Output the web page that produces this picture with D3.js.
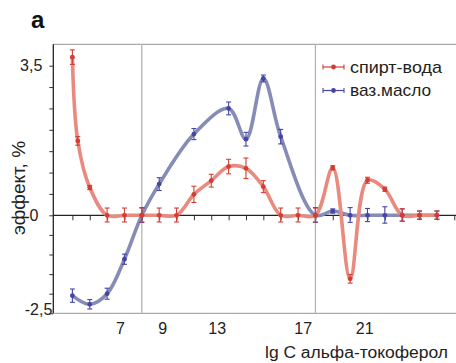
<!DOCTYPE html>
<html>
<head>
<meta charset="utf-8">
<script src="https://cdn.jsdelivr.net/npm/d3@7"></script>
<style>
  body { margin: 0; background: #fff; }
  text { font-family: "Liberation Sans", Arial, Helvetica, sans-serif; }
</style>
</head>
<body>
<div id="viz"></div>
<script>
const width = 456;
const height = 363;
const plot = {left: 53.3, right: 456, top: 44.3, bottom: 313.3};

// x is the step number along the axis (0 = first concentration)
const redX   = [0, 0.31, 1, 2, 3, 4, 5, 6, 7, 8, 9, 10, 11, 12, 13, 14, 15, 16, 17, 18, 19, 20, 21];
const redY   = [3.70, 1.74, 0.65, 0, 0, 0, 0, 0, 0.49, 0.81, 1.14, 1.10, 0.67, 0, 0, 0, 1.11, -1.62, 0.82, 0.61, 0, 0, 0];
const redErr = [0.17, 0.10, 0.05, 0.17, 0.17, 0.17, 0.17, 0.17, 0.19, 0.15, 0.17, 0.24, 0.14, 0.17, 0.17, 0.17, 0.05, 0.11, 0.07, 0.05, 0.15, 0.10, 0.10];

const blueX   = [0, 1, 2, 3, 4, 5, 7, 9, 10, 11, 12, 14, 15, 16, 17, 18, 19, 20, 21];
const blueY   = [-2.05, -2.27, -2.0, -1.12, 0, 0.73, 1.90, 2.50, 1.78, 3.20, 1.84, 0, 0.10, 0, 0, 0, 0, 0, 0];
const blueErr = [0.17, 0.12, 0.14, 0.13, 0.18, 0.15, 0.13, 0.15, 0.16, 0.08, 0.17, 0.18, 0.05, 0.18, 0.16, 0.20, 0.15, 0.10, 0.10];

const seriesNames = ['спирт-вода', 'ваз.масло'];

// x tick labels and where they sit (in steps)
const xLabels   = ['7', '9', '13', '17', '21'];
const xLabelPos = [2.74, 5.18, 8.31, 13.27, 16.81];
const vLines = [4, 14];

const yLabeled = [3.5, 0, -2.5];

const colors = {
  redLine: '#ea8a7e', redMark: '#d33d33',
  blueLine: '#868cb6', blueMark: '#4545a8'
};

const svg = d3.select('#viz').append('svg')
  .attr('width', width)
  .attr('height', height);

const x = d3.scaleLinear().domain([-1.1, 22.1]).range([plot.left, plot.right]);
// the y axis is not uniform in the picture, so use a piecewise scale
const y = d3.scaleLinear().domain([-2.5, 0, 4]).range([plot.bottom, 215.3, plot.top]);

// frame lines (top, bottom)
svg.append('line')
  .attr('x1', plot.left).attr('x2', plot.right)
  .attr('y1', plot.top).attr('y2', plot.top)
  .attr('stroke', '#aaa').attr('stroke-width', 1.2);
svg.append('line')
  .attr('x1', plot.left).attr('x2', plot.right)
  .attr('y1', plot.bottom).attr('y2', plot.bottom)
  .attr('stroke', '#aaa').attr('stroke-width', 1.2);

// vertical markers
svg.selectAll('.vline')
  .data(vLines)
  .join('line')
  .attr('class', 'vline')
  .attr('x1', d => x(d)).attr('x2', d => x(d))
  .attr('y1', plot.top).attr('y2', plot.bottom)
  .attr('stroke', '#b0b0b0').attr('stroke-width', 1.2);

// y axis
const comma = d3.formatLocale({decimal: ',', thousands: ' ', grouping: [3], currency: ['', ''], minus: '-'}).format('~g');
const yNudge = {'3.5': [0, 0], '0': [-4, 0], '-2.5': [10, -4]};
const yAxis = svg.append('g')
  .attr('transform', `translate(${plot.left},0)`)
  .call(d3.axisLeft(y)
    .tickValues(d3.range(-2.5, 3.51, 0.5))
    .tickSize(4)
    .tickPadding(7)
    .tickFormat(d => yLabeled.some(v => Math.abs(v - d) < 1e-6) ? comma(d) : ''));
yAxis.select('.domain').attr('stroke', '#222').attr('stroke-width', 1.3)
  .attr('d', `M0,${plot.top}V${plot.bottom}`);
yAxis.selectAll('.tick line').attr('stroke', '#333');
yAxis.selectAll('.tick text')
  .attr('font-size', 16).attr('fill', '#222')
  .attr('transform', d => {
    const k = Object.keys(yNudge).find(s => Math.abs(+s - d) < 1e-6);
    return k ? `translate(${yNudge[k][0]},${yNudge[k][1]})` : null;
  });

// x axis at zero
const xAxis = svg.append('g')
  .attr('transform', `translate(0,${y(0)})`)
  .call(d3.axisBottom(x).tickValues(d3.range(0, 23)).tickSize(5).tickFormat(''));
xAxis.select('.domain').attr('stroke', '#222').attr('stroke-width', 1.3)
  .attr('d', `M${plot.left},0H${plot.right}`);
xAxis.selectAll('.tick line').attr('stroke', '#333');

// x labels under the plot
const xLab = svg.append('g')
  .attr('transform', `translate(0,${plot.bottom})`)
  .call(d3.axisBottom(x).tickValues(xLabelPos).tickSize(0).tickPadding(9)
    .tickFormat((d, i) => xLabels[i]));
xLab.select('.domain').remove();
xLab.selectAll('text').attr('font-size', 16).attr('fill', '#222');

// titles
svg.append('text')
  .attr('x', 448).attr('y', 358)
  .attr('text-anchor', 'end')
  .attr('font-size', 16).attr('fill', '#222')
  .attr('textLength', 183).attr('lengthAdjust', 'spacingAndGlyphs')
  .text('lg C альфа-токоферол');

svg.append('text')
  .attr('transform', 'translate(25,188) rotate(-90)')
  .attr('text-anchor', 'middle')
  .attr('font-size', 19).attr('fill', '#222')
  .text('эффект, %');

svg.append('text')
  .attr('x', 31).attr('y', 27.5)
  .attr('font-size', 24).attr('font-weight', 'bold').attr('fill', '#111')
  .text('a');

// series
const series = [
  {name: seriesNames[0], xs: redX, ys: redY, err: redErr, line: colors.redLine, mark: colors.redMark},
  {name: seriesNames[1], xs: blueX, ys: blueY, err: blueErr, line: colors.blueLine, mark: colors.blueMark}
];

const lineGen = d3.line()
  .x(d => x(d[0]))
  .y(d => y(d[1]))
  .curve(d3.curveCatmullRom);

// blue first, red on top
[series[1], series[0]].forEach(s => {
  const pts = s.xs.map((v, i) => [v, s.ys[i], s.err[i]]);
  svg.append('path')
    .attr('d', lineGen(pts))
    .attr('fill', 'none')
    .attr('stroke', s.line)
    .attr('stroke-width', 3.6)
    .attr('stroke-linecap', 'round');
});

[series[1], series[0]].forEach(s => {
  const pts = s.xs.map((v, i) => [v, s.ys[i], s.err[i]]);
  const g = svg.append('g');
  const bars = g.selectAll('.err').data(pts).join('g').attr('class', 'err')
    .attr('stroke', s.mark).attr('stroke-width', 1.1);
  bars.append('line')
    .attr('x1', d => x(d[0])).attr('x2', d => x(d[0]))
    .attr('y1', d => y(d[1] - d[2])).attr('y2', d => y(d[1] + d[2]));
  bars.append('line')
    .attr('x1', d => x(d[0]) - 2.5).attr('x2', d => x(d[0]) + 2.5)
    .attr('y1', d => y(d[1] - d[2])).attr('y2', d => y(d[1] - d[2]));
  bars.append('line')
    .attr('x1', d => x(d[0]) - 2.5).attr('x2', d => x(d[0]) + 2.5)
    .attr('y1', d => y(d[1] + d[2])).attr('y2', d => y(d[1] + d[2]));
  g.selectAll('circle').data(pts).join('circle')
    .attr('cx', d => x(d[0])).attr('cy', d => y(d[1]))
    .attr('r', 2.4).attr('fill', s.mark);
});

// legend
const legend = svg.append('g').attr('transform', 'translate(323,67)');
const items = legend.selectAll('.item').data(series).join('g')
  .attr('class', 'item')
  .attr('transform', (d, i) => `translate(0,${i * 23.5})`);
items.append('line').attr('x1', 0).attr('x2', 21).attr('y1', 0).attr('y2', 0)
  .attr('stroke', d => d.mark).attr('stroke-width', 1.2);
items.append('line').attr('x1', 0).attr('x2', 0).attr('y1', -2.5).attr('y2', 2.5)
  .attr('stroke', d => d.mark).attr('stroke-width', 1.1);
items.append('line').attr('x1', 21).attr('x2', 21).attr('y1', -2.5).attr('y2', 2.5)
  .attr('stroke', d => d.mark).attr('stroke-width', 1.1);
items.append('circle').attr('cx', 10.5).attr('cy', 0).attr('r', 2.4)
  .attr('fill', d => d.mark);
items.append('text')
  .attr('x', 27).attr('y', 5.5)
  .attr('font-size', 17).attr('fill', '#222')
  .attr('textLength', (d, i) => i === 0 ? 92 : 81)
  .attr('lengthAdjust', 'spacingAndGlyphs')
  .text(d => d.name);
</script>
</body>
</html>
